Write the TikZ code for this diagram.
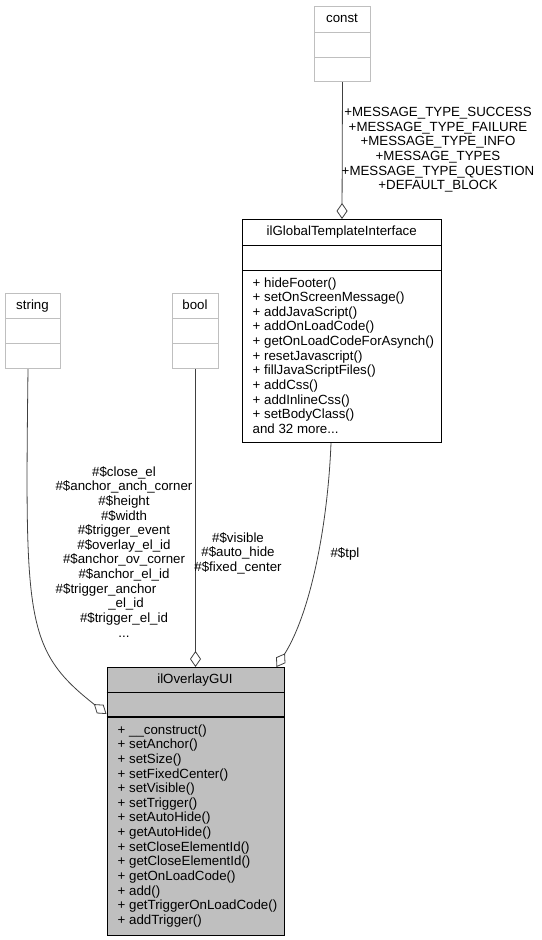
\documentclass[tikz,border=0pt]{standalone}
\usepackage{fontspec}
\setmainfont{Liberation Sans}
\usetikzlibrary{arrows.meta,positioning}
\tikzset{
        textnode/.style={inner sep=0pt, font=\fontsize{13.3}{14.65}\selectfont},
        % Used classes (grey frame)
        box_used/.style={rectangle, draw=black!25, line width=1pt, anchor=north west, inner sep=0pt},
        % Interface class
        box_iface/.style={rectangle, draw=black, line width=1pt, fill=white, anchor=north west, inner sep=0pt},
        % Main class
        box_main/.style={rectangle, draw=black, line width=1pt, fill=black!25, anchor=north west, inner sep=0pt},
        % Texts in the boxes (multi-line texts sit on their last line)
        box_title/.style={textnode, anchor=base},
        box_members/.style={textnode, align=left, anchor=base west},
        % Aggregation edges
        edge_agg/.style={draw=black!75, line width=0.8pt, -{Diamond[open, length=16pt, width=11pt]}},
        edge_label/.style={textnode, align=center, anchor=base}
}
\begin{document}
\begin{tikzpicture}[x=1pt, y=-1pt]
    \useasboundingbox (0,0) rectangle (541,940);
    % Boxes
    \node[box_used, minimum width=56pt, minimum height=75pt] (const) at (314,6) {};
    \node[box_used, minimum width=55pt, minimum height=75pt] (string) at (5,293) {};
    \node[box_used, minimum width=46pt, minimum height=75pt] (bool) at (172,293) {};
    \node[box_iface, minimum width=199pt, minimum height=223pt] (gti) at (242,219) {};
    \node[box_main, minimum width=177pt, minimum height=268pt] (overlay) at (106.5,667) {};

    % Dividers
    \draw[black!25, line width=1pt] (const.west |- 0,32) -- (const.east |- 0,32);
    \draw[black!25, line width=1pt] (const.west |- 0,57) -- (const.east |- 0,57);
    \draw[black!25, line width=1pt] (string.west |- 0,318) -- (string.east |- 0,318);
    \draw[black!25, line width=1pt] (string.west |- 0,343) -- (string.east |- 0,343);
    \draw[black!25, line width=1pt] (bool.west |- 0,318) -- (bool.east |- 0,318);
    \draw[black!25, line width=1pt] (bool.west |- 0,343) -- (bool.east |- 0,343);
    \draw[line width=1pt] (gti.west |- 0,245) -- (gti.east |- 0,245);
    \draw[line width=1pt] (gti.west |- 0,270) -- (gti.east |- 0,270);
    \draw[line width=1pt] (overlay.west |- 0,692) -- (overlay.east |- 0,692);
    \draw[line width=1.3pt] (overlay.west |- 0,717) -- (overlay.east |- 0,717);

    % Titles
    \node[box_title] (const title) at (342,22) {const};
    \node[box_title] (string title) at (32.5,309) {string};
    \node[box_title] (bool title) at (195,309) {bool};
    \node[box_title] (gti title) at (341.7,235.5) {ilGlobalTemplateInterface};
    \node[box_title] (overlay title) at (195,683) {ilOverlayGUI};

    % Members
    \node[box_members] (gti members) at (252.5,433.5) {+ hideFooter()\\+ setOnScreenMessage()\\+ addJavaScript()\\+ addOnLoadCode()\\+ getOnLoadCodeForAsynch()\\+ resetJavascript()\\+ fillJavaScriptFiles()\\+ addCss()\\+ addInlineCss()\\+ setBodyClass()\\and 32 more...};
    \node[box_members] (overlay members) at (117.5,924.5) {+ \_\_construct()\\+ setAnchor()\\+ setSize()\\+ setFixedCenter()\\+ setVisible()\\+ setTrigger()\\+ setAutoHide()\\+ getAutoHide()\\+ setCloseElementId()\\+ getCloseElementId()\\+ getOnLoadCode()\\+ add()\\+ getTriggerOnLoadCode()\\+ addTrigger()};

    % Edges
    \draw[edge_agg] (const.south) -- (gti.north);
    \draw[edge_agg] (bool.south) -- (overlay.north);
    \draw[edge_agg] ([xshift=-11pt]gti.south) .. controls (328,520) and (312,610) .. ([xshift=81pt]overlay.north);
    \draw[edge_agg] ([xshift=-5pt]string.south) .. controls (25,620) and (25,650) .. ([yshift=-47pt]overlay.north west);

    % Edge labels
    \node[edge_label] (const label) at (438,189.7) {+MESSAGE\_TYPE\_SUCCESS\\+MESSAGE\_TYPE\_FAILURE\\+MESSAGE\_TYPE\_INFO\\+MESSAGE\_TYPES\\+MESSAGE\_TYPE\_QUESTION\\+DEFAULT\_BLOCK};
    \node[edge_label] (string label) at (124,637.2) {\#\$close\_el\\\#\$anchor\_anch\_corner\\\#\$height\\\#\$width\\\#\$trigger\_event\\\#\$overlay\_el\_id\\\#\$anchor\_ov\_corner\\\#\$anchor\_el\_id\\\#\$trigger\_anchor\rule{36pt}{0pt}\\\rule{4pt}{0pt}\_el\_id\\\#\$trigger\_el\_id\\...};
    \node[edge_label] (bool label) at (238,571.3) {\#\$visible\\\#\$auto\_hide\\\#\$fixed\_center};
    \node[edge_label] (tpl label) at (345,557) {\#\$tpl};
\end{tikzpicture}
\end{document}
